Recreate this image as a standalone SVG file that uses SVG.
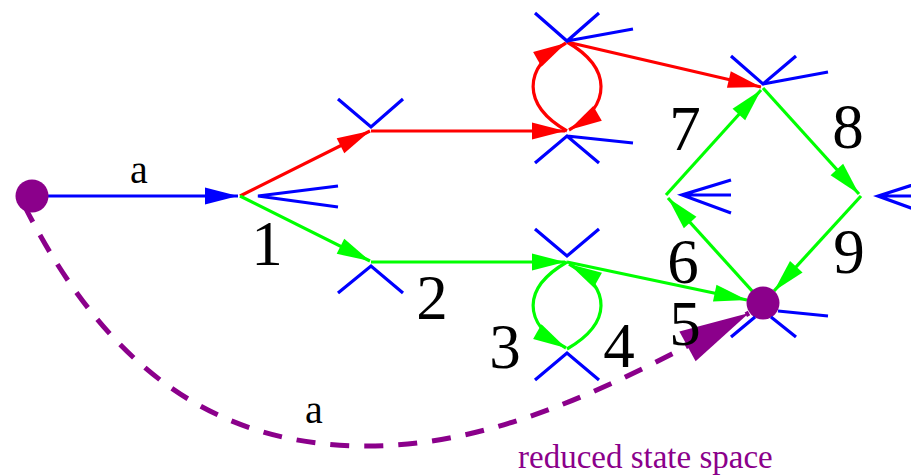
<svg xmlns="http://www.w3.org/2000/svg" width="911" height="475" viewBox="0 0 911 475">
<style>
.stub{stroke:#0000ff;stroke-width:3.2;fill:none;stroke-linecap:butt}
.e{fill:none;stroke-width:3.2}
.blue{stroke:#0000ff}
.red{stroke:#ff0000}
.green{stroke:#00ff00}
.dash{fill:none;stroke:#8b008b;stroke-width:5;stroke-dasharray:19 15}
.num{font-family:"Liberation Serif","Times New Roman",serif;font-size:63px;fill:#000;text-anchor:middle}
.lab{font-family:"Liberation Serif","Times New Roman",serif;font-size:40px;fill:#000;text-anchor:middle}
.cap{font-family:"Liberation Serif","Times New Roman",serif;font-size:33px;fill:#8b008b}
.dot{fill:#8b008b}
</style>
<defs>
<marker id="ab" markerUnits="userSpaceOnUse" markerWidth="36" markerHeight="20" refX="33" refY="8.5" orient="auto" overflow="visible"><path d="M0,0 L33,8.5 L0,17 z" fill="#0000ff"/></marker>
<marker id="ar" markerUnits="userSpaceOnUse" markerWidth="36" markerHeight="20" refX="33" refY="8.5" orient="auto" overflow="visible"><path d="M0,0 L33,8.5 L0,17 z" fill="#ff0000"/></marker>
<marker id="ag" markerUnits="userSpaceOnUse" markerWidth="36" markerHeight="20" refX="33" refY="8.5" orient="auto" overflow="visible"><path d="M0,0 L33,8.5 L0,17 z" fill="#00ff00"/></marker>
<marker id="ap" markerUnits="userSpaceOnUse" markerWidth="72" markerHeight="36" refX="70" refY="17" orient="auto" overflow="visible"><path d="M0,0 L70,17 L0,34 z" fill="#8b008b"/></marker>
</defs>
<rect width="911" height="475" fill="#ffffff"/>
<g id="connectors">
<path class="dash" d="M24,205 C107,370 217,446 367,446 C497,446 617.5,384.5 749,313" marker-end="url(#ap)"/>
<path class="e blue" d="M32,196 L238,196" marker-end="url(#ab)"/>
<path class="e red" d="M240,196 L370,131" marker-end="url(#ar)"/>
<path class="e red" d="M371,131 L565,131" marker-end="url(#ar)"/>
<path class="e red" d="M567,131 C522,105 522,68 566,43" marker-end="url(#ar)"/>
<path class="e red" d="M567,42 C612,68 612,105 569,130" marker-end="url(#ar)"/>
<path class="e red" d="M567,42 L761,87" marker-end="url(#ar)"/>
<path class="e green" d="M240,196 L370,261" marker-end="url(#ag)"/>
<path class="e green" d="M371,262 L565,262" marker-end="url(#ag)"/>
<path class="e green" d="M567,262 C522,288 522,323 566,348" marker-end="url(#ag)"/>
<path class="e green" d="M567,349 C612,323 612,288 569,264" marker-end="url(#ag)"/>
<path class="e green" d="M567,262 L747,300" marker-end="url(#ag)"/>
<path class="e green" d="M763,303 L668,198" marker-end="url(#ag)"/>
<path class="e green" d="M666,195 L761,90" marker-end="url(#ag)"/>
<path class="e green" d="M763,88 L859,194" marker-end="url(#ag)"/>
<path class="e green" d="M861,196 L774,291" marker-end="url(#ag)"/>
<text class="lab" x="139" y="183">a</text>
<text class="lab" x="314" y="423">a</text>
</g>
<g id="node-start"><circle class="dot" cx="32" cy="196" r="16.5"/></g>
<g id="node-1">
<path class="stub" d="M338,186 L258,196 L338,207"/>
<text class="num" x="267" y="265">1</text>
</g>
<g id="node-2">
<path class="stub" d="M338,293 L371,266 L403,293"/>
<text class="num" x="432" y="319">2</text>
</g>
<g id="node-A"><path class="stub" d="M338,99 L371,127 L403,99"/></g>
<g id="node-D"><path class="stub" d="M535,13 L567,41 L599,13 M567,41 L633,29"/></g>
<g id="node-C"><path class="stub" d="M535,163 L567,136 L599,163 M567,136 L633,143"/></g>
<g id="node-3">
<path class="stub" d="M535,229 L567,256 L599,229"/>
<text class="num" x="505" y="368">3</text>
</g>
<g id="node-4">
<path class="stub" d="M535,380 L567,353 L599,380"/>
<text class="num" x="619" y="367">4</text>
</g>
<g id="node-5">
<circle class="dot" cx="763" cy="303" r="16.5"/>
<path class="stub" d="M778,311 L828,316 M755,317 L731,337 M771,317 L796,337"/>
<text class="num" x="685" y="345">5</text>
</g>
<g id="node-6">
<path class="stub" d="M731,180 L682,195 L731,213 M682,195 L731,195"/>
<text class="num" x="683" y="283">6</text>
</g>
<g id="node-7">
<path class="stub" d="M731,56 L763,84 L796,56 M763,84 L828,72"/>
<text class="num" x="685" y="150">7</text>
</g>
<g id="node-8">
<path class="stub" d="M925,181 L878,196 L925,213 M878,196 L925,196"/>
<text class="num" x="848" y="148">8</text>
</g>
<g id="node-9"><text class="num" x="849" y="273">9</text></g>
<g id="caption"><text class="cap" x="518" y="468">reduced state space</text></g>
</svg>
